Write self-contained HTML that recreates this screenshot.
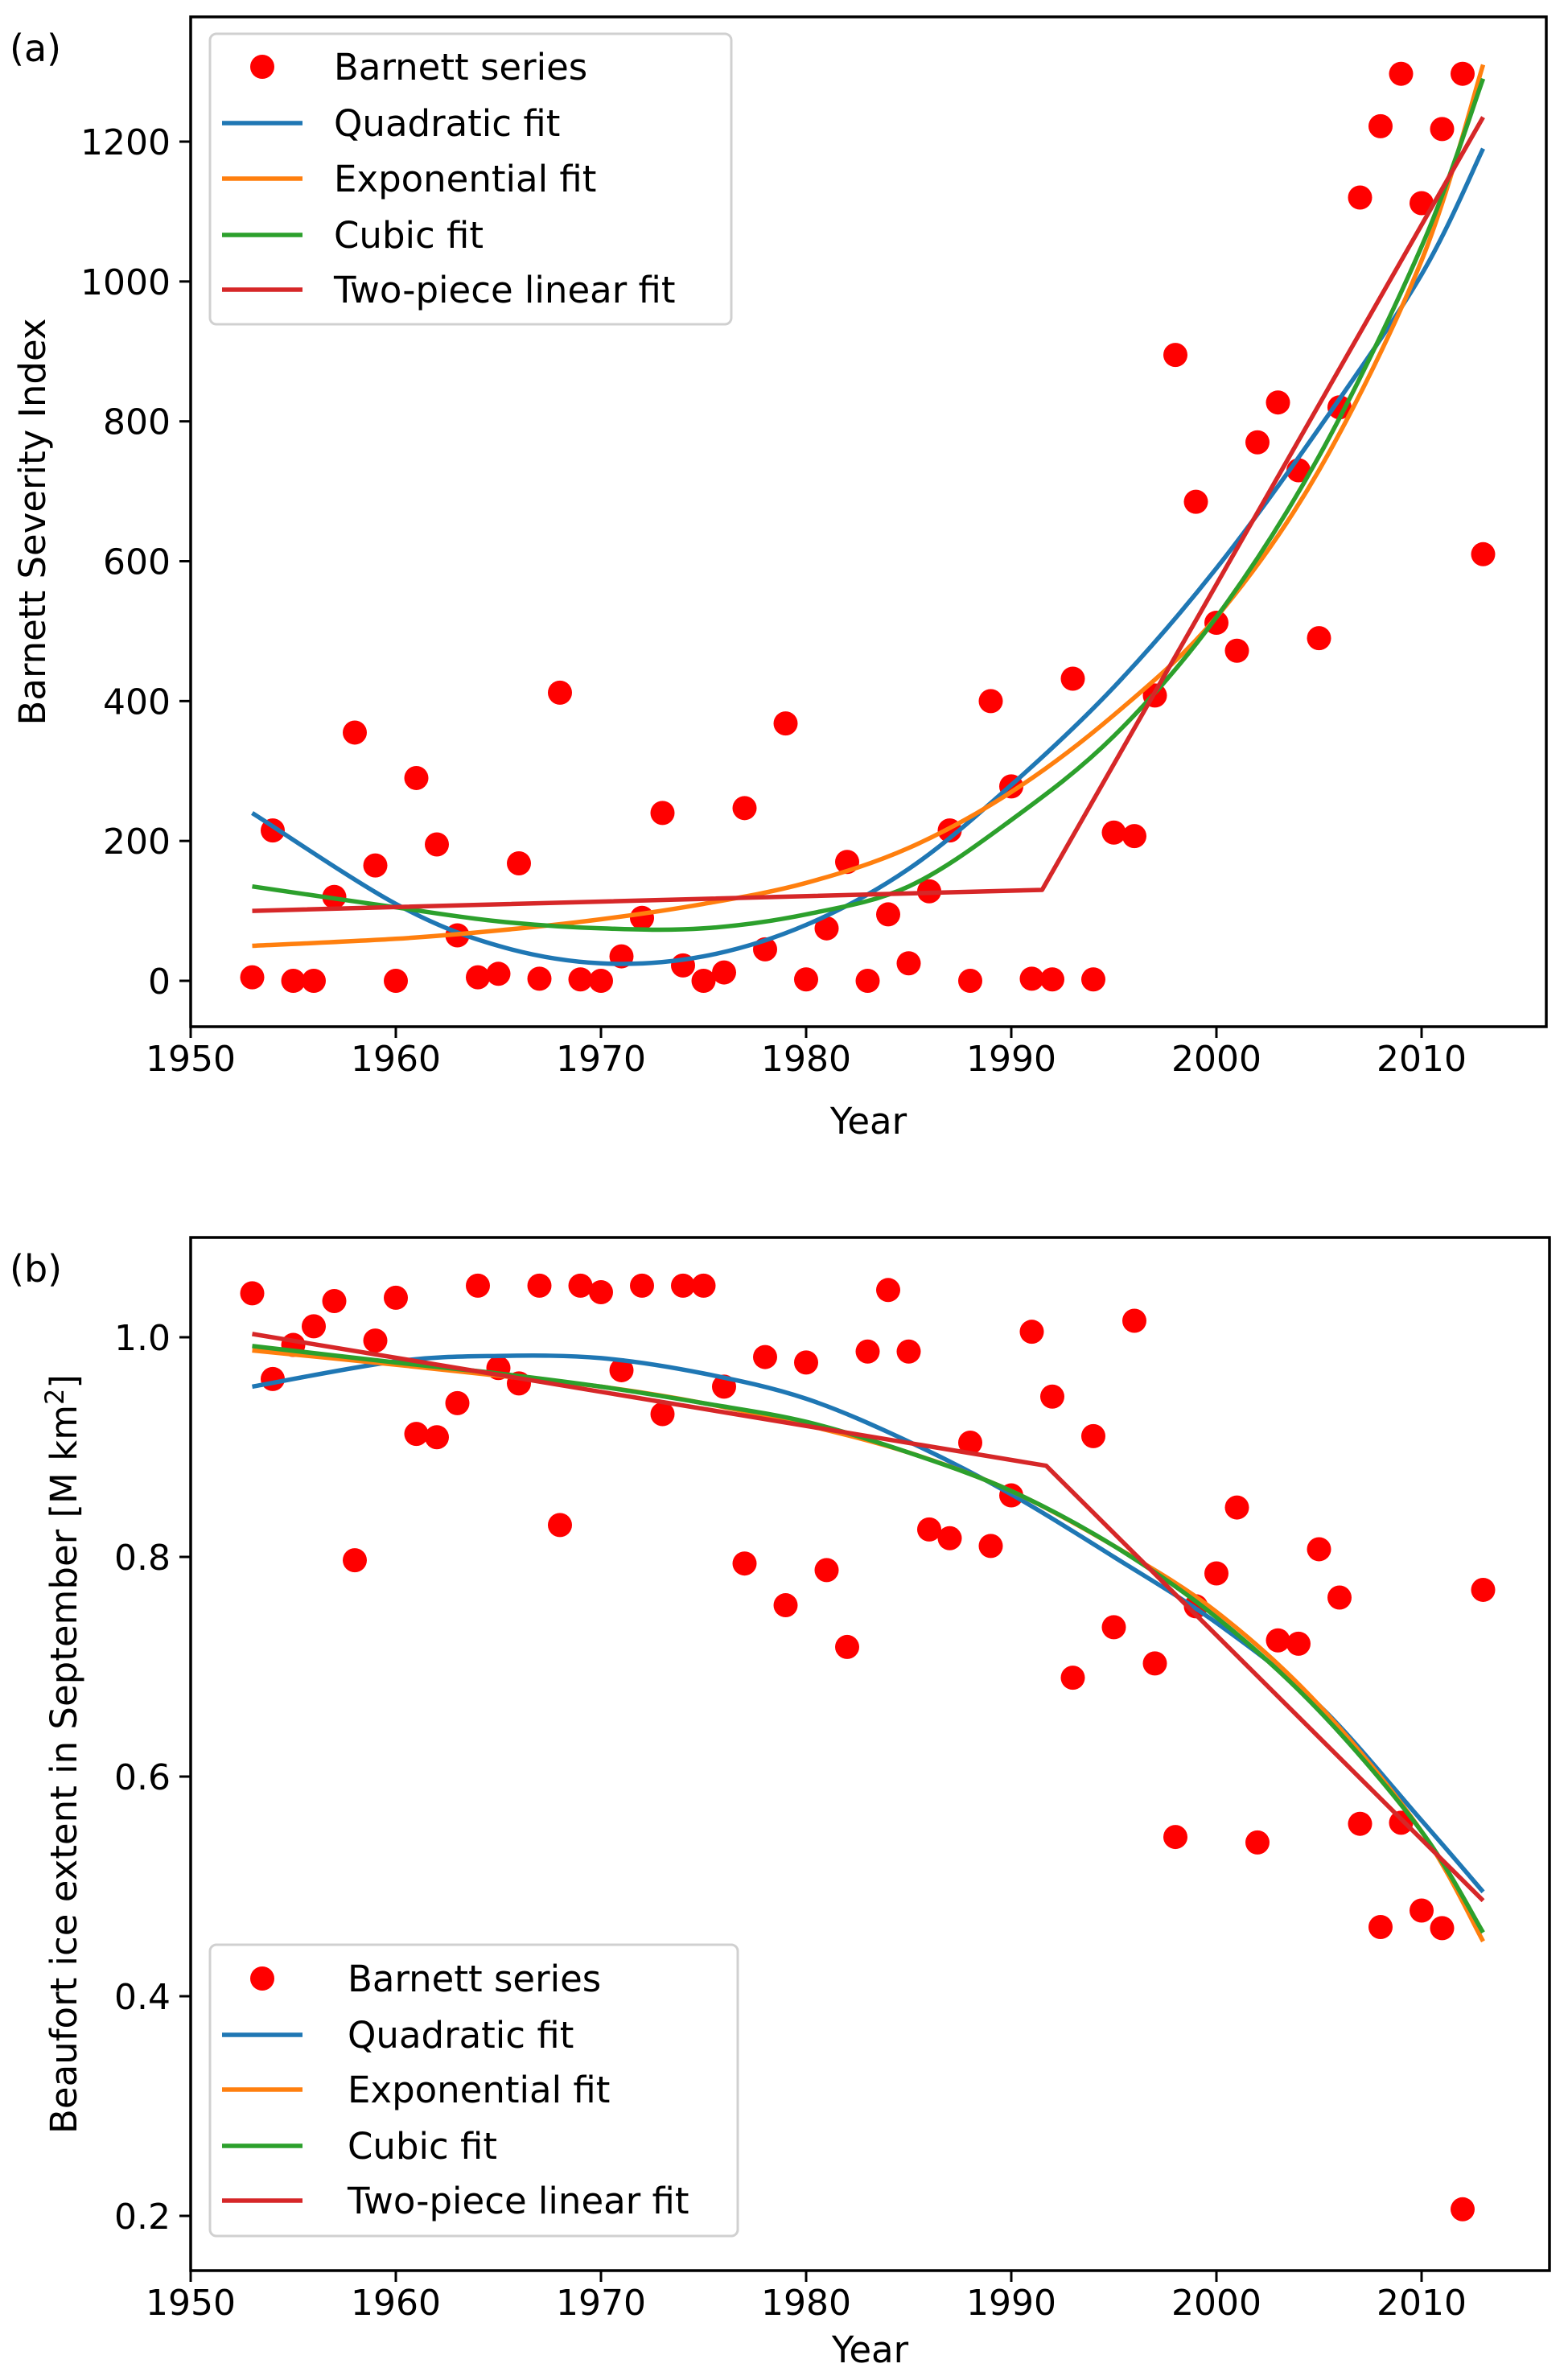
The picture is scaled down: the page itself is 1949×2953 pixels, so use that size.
<!DOCTYPE html>
<html><head><meta charset="utf-8"><style>
html,body{margin:0;padding:0;background:#fff}
svg{display:block;font-family:"DejaVu Sans","Liberation Sans",sans-serif}
</style></head><body>
<svg id="fig" width="1949" height="2953" viewBox="0 0 1949 2953" xmlns="http://www.w3.org/2000/svg">
<rect x="0" y="0" width="1949" height="2953" fill="#fff"/>
<g id="pa"></g>
<g id="pb"></g>
</svg>
<script>
const years=[];for(let y=1953;y<=2013;y++)years.push(y);
const severity=[5,215,0,0,120,355,165,0,290,195,65,5,10,168,3,412,2,0,35,90,240,22,0,12,247,45,368,2,75,170,0,95,25,128,215,0,400,278,3,2,432,2,212,207,408,895,685,512,472,770,827,730,490,820,1120,1222,1297,1112,1218,1297,610];
const extent=[1.04,0.962,0.993,1.01,1.033,0.797,0.997,1.036,0.912,0.909,0.94,1.047,0.972,0.958,1.047,0.829,1.047,1.041,0.97,1.047,0.93,1.047,1.047,0.955,0.794,0.982,0.756,0.977,0.788,0.718,0.987,1.043,0.987,0.825,0.817,0.904,0.81,0.856,1.005,0.946,0.69,0.91,0.736,1.015,0.703,0.545,0.755,0.785,0.845,0.54,0.724,0.721,0.807,0.763,0.557,0.463,0.558,0.478,0.462,0.206,0.77];
const fitYears=[1953,1960,1965,1970,1975,1980,1985,1990,1995,2000,2005,2010,2013];
const aQuad=[240,110,50,25,35,80,160,280,420,590,790,1010,1190];
const aExp=[50,60,72,88,110,140,190,270,380,520,730,1030,1310];
const aCubic=[135,105,85,75,75,95,135,230,350,520,750,1050,1290];
const aPieceYears=[1953,1991.5,2013];
const aPiece=[100,130,1235];
const bQuad=[0.955,0.978,0.983,0.981,0.967,0.944,0.905,0.857,0.8,0.74,0.665,0.56,0.495];
const bExp=[0.988,0.975,0.965,0.955,0.94,0.92,0.895,0.86,0.81,0.75,0.665,0.55,0.45];
const bCubic=[0.992,0.977,0.967,0.955,0.94,0.923,0.895,0.86,0.81,0.745,0.66,0.55,0.458];
const bPieceYears=[1953,1991.7,2013];
const bPiece=[1.003,0.883,0.487];
const xTicks=[1950,1960,1970,1980,1990,2000,2010];
const aYTicks=[0,200,400,600,800,1000,1200];
const bYTicks=["0.2","0.4","0.6","0.8","1.0"];
const legendLabels=["Barnett series","Quadratic fit","Exponential fit","Cubic fit","Two-piece linear fit"];
const colors={dot:"#ff0000",quad:"#1f77b4",exp:"#ff7f0e",cubic:"#2ca02c",piece:"#d62728"};
const NS="http://www.w3.org/2000/svg";
function mk(p,t,a,txt){const e=document.createElementNS(NS,t);for(const k in a)e.setAttribute(k,a[k]);if(txt!==undefined)e.textContent=txt;p.appendChild(e);return e;}
function smoothPath(pts){
  let d="M"+pts[0][0].toFixed(1)+","+pts[0][1].toFixed(1);
  for(let i=0;i<pts.length-1;i++){
    const p0=pts[Math.max(0,i-1)],p1=pts[i],p2=pts[i+1],p3=pts[Math.min(pts.length-1,i+2)];
    const c1=[p1[0]+(p2[0]-p0[0])/6,p1[1]+(p2[1]-p0[1])/6];
    const c2=[p2[0]-(p3[0]-p1[0])/6,p2[1]-(p3[1]-p1[1])/6];
    d+=` C${c1[0].toFixed(1)},${c1[1].toFixed(1)} ${c2[0].toFixed(1)},${c2[1].toFixed(1)} ${p2[0].toFixed(1)},${p2[1].toFixed(1)}`;
  }
  return d;
}
function panel(g,cfg){
  const X=v=>cfg.x0+(v-1950)*(cfg.x1-cfg.x0)/60;
  const Y=v=>cfg.yA+(v-cfg.vA)*(cfg.yB-cfg.yA)/(cfg.vB-cfg.vA);
  xTicks.forEach(t=>{
    const l=mk(g,"line",{x1:X(t),x2:X(t),y1:cfg.bottom,y2:cfg.bottom+14,stroke:"#000","stroke-width":3});
    
    
    const tx=mk(g,"text",{x:X(t),y:cfg.bottom+55,"font-size":44,"text-anchor":"middle"},String(t));
    
    
  });
  cfg.yTicks.forEach(t=>{
    const v=parseFloat(t);
    const l=mk(g,"line",{x1:cfg.left-14,x2:cfg.left,y1:Y(v),y2:Y(v),stroke:"#000","stroke-width":3});
    
    
    const tx=mk(g,"text",{x:cfg.left-25,y:Y(v)+16,"font-size":44,"text-anchor":"end"},String(t));
    
    
  });
  const clip="clip"+cfg.id;
  const cp=mk(g,"clipPath",{id:clip});mk(cp,"rect",{x:cfg.left,y:cfg.top,width:cfg.right-cfg.left,height:cfg.bottom-cfg.top});
  const plot=mk(g,"g",{"clip-path":"url(#"+clip+")"});
  
  
  cfg.vals.forEach((v,i)=>{
    const c=mk(plot,"circle",{cx:X(years[i]),cy:Y(v),r:15,fill:colors.dot});
    
    
  });
  const line=(xs,ys,col,name,smooth)=>{
    const pts=xs.map((x,i)=>[X(x),Y(ys[i])]);
    const d=smooth?smoothPath(pts):pts.map((p,i)=>(i?"L":"M")+p[0].toFixed(1)+","+p[1].toFixed(1)).join(" ");
    const p=mk(plot,"path",{d:d,fill:"none",stroke:col,"stroke-width":5.5,"stroke-linejoin":"round"});
    
    
  };
  line(fitYears,cfg.quad,colors.quad,'quadratic-fit-line',true);
  line(fitYears,cfg.exp,colors.exp,'exponential-fit-line',true);
  line(fitYears,cfg.cubic,colors.cubic,'cubic-fit-line',true);
  line(cfg.pieceYears,cfg.piece,colors.piece,'two-piece-linear-fit-line',false);
  const fr=mk(g,"rect",{x:cfg.left,y:cfg.top,width:cfg.right-cfg.left,height:cfg.bottom-cfg.top,fill:"none",stroke:"#000","stroke-width":3.5});
  
  
  const L=cfg.leg;
  const lg=mk(g,"g",{});
  
  
  mk(lg,"rect",{x:L.x,y:L.y,width:L.w,height:L.h,rx:8,fill:"#fff","fill-opacity":0.85,stroke:"#d0d0d0","stroke-width":3});
  const cols=[colors.dot,colors.quad,colors.exp,colors.cubic,colors.piece];
  legendLabels.forEach((lab,i)=>{
    const ry=L.rows[i];
    const e=mk(lg,"g",{});
    
    
    if(i===0)mk(e,"circle",{cx:L.mx,cy:ry,r:15,fill:cols[0]});
    else mk(e,"line",{x1:L.mx-50,x2:L.mx+50,y1:ry,y2:ry,stroke:cols[i],"stroke-width":5.5});
    mk(e,"text",{x:L.tx,y:ry+16,"font-size":45},lab);
  });
  const xl=mk(g,"text",{x:(cfg.left+cfg.right)/2,y:cfg.xlabY,"font-size":45,"text-anchor":"middle"},"Year");
  
  
  const yl=mk(g,"text",{x:0,y:0,"font-size":45,"text-anchor":"middle",transform:`translate(${cfg.ylabX},${(cfg.top+cfg.bottom)/2}) rotate(-90)`});
  yl.innerHTML=cfg.ylab;
  
  
  const pl=mk(g,"text",{x:12,y:cfg.top+55,"font-size":46},cfg.tag);
  
  
}
panel(document.getElementById("pa"),{id:"a",x0:237,x1:1767,left:237,right:1922,top:21,bottom:1276,
  vA:0,yA:1219,vB:1200,yB:176,yTicks:aYTicks,vals:severity,quad:aQuad,exp:aExp,cubic:aCubic,
  pieceYears:aPieceYears,piece:aPiece,
  leg:{x:261,y:42,w:648,h:361,mx:326,tx:415,rows:[83,153,222,292,360]},
  xlabY:1409,ylabX:56,ylab:"Barnett Severity Index",tag:"(a)"});
panel(document.getElementById("pb"),{id:"b",x0:237,x1:1767,left:237,right:1926,top:1538,bottom:2822,
  vA:1.0,yA:1662,vB:0.2,yB:2754,yTicks:bYTicks,vals:extent,quad:bQuad,exp:bExp,cubic:bCubic,
  pieceYears:bPieceYears,piece:bPiece,
  leg:{x:261,y:2417,w:656,h:362,mx:326,tx:432,rows:[2459,2529,2597,2667,2735]},
  xlabY:2936,ylabX:95,ylab:'Beaufort ice extent in September [M km<tspan dy="-16" font-size="32">2</tspan><tspan dy="16">]</tspan>',tag:"(b)"});
</script>
</body></html>
